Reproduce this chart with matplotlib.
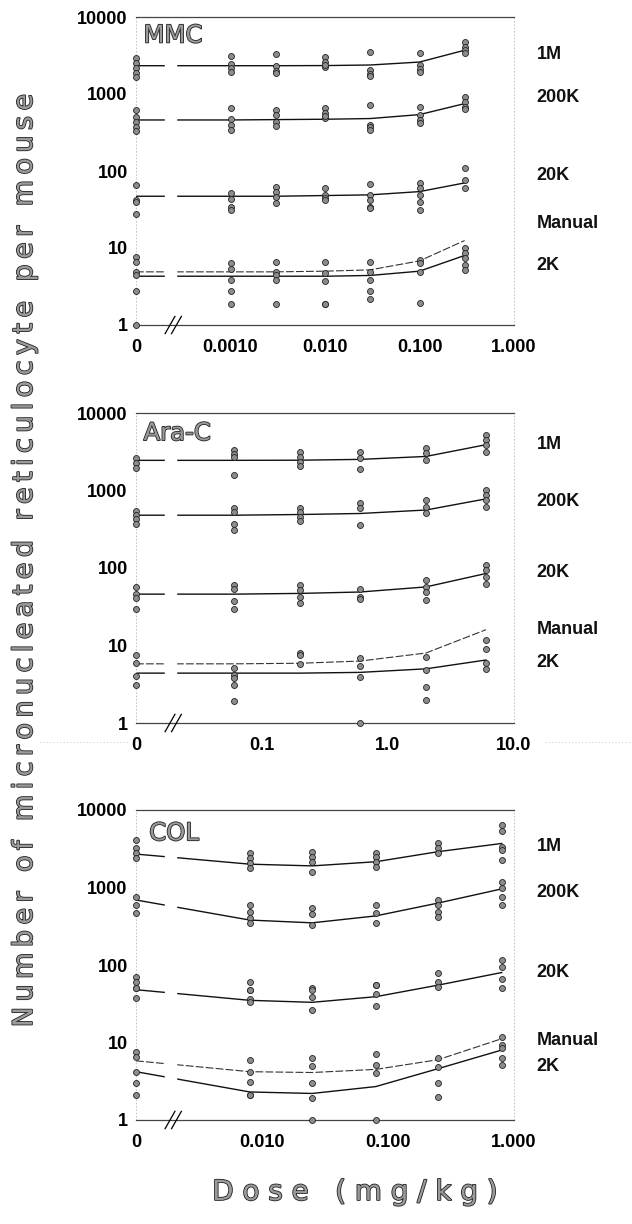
import matplotlib
matplotlib.use("Agg")
import matplotlib.pyplot as plt
import matplotlib.patheffects as pe
from matplotlib.patches import Rectangle
from matplotlib.lines import Line2D

# ---------------- data ----------------
# doses in mg/kg, 0 = vehicle control
mmc_doses = [0, 0.001, 0.003, 0.01, 0.03, 0.1, 0.3]
mmc_1m = [[2950, 2500, 2180, 1870, 1660], [3100, 2450, 2190, 1950], [3300, 2300, 2000, 1900],
          [3000, 2600, 2250, 2400], [3500, 2050, 1800, 1700], [3400, 2400, 2100, 1950],
          [4800, 4100, 3700, 3400]]
mmc_1m_fit = [2330, 2330, 2330, 2340, 2380, 2600, 3700]
mmc_200k = [[620, 500, 435, 375, 330], [660, 480, 400, 340], [615, 540, 435, 380],
            [660, 560, 490, 520], [720, 400, 370, 340], [680, 535, 460, 420], [910, 790, 680, 630]]
mmc_200k_fit = [460, 460, 465, 470, 480, 540, 750]
mmc_20k = [[66, 42, 40, 28], [52, 43, 34, 31], [62, 54, 46, 38], [60, 49, 45, 42],
           [68, 49, 42, 34, 33], [69, 60, 49, 40, 31], [110, 76, 60]]
mmc_20k_fit = [47, 47, 47, 48, 49, 54, 70]
mmc_manual = [[7.6, 6.6, 4.9], [6.4, 5.4], [6.6, 4.9], [6.6, 4.8], [6.6, 4.9], [6.9, 6.4],
              [10, 8.7, 7.4]]
mmc_manual_fit = [4.9, 4.9, 4.9, 5.0, 5.2, 6.8, 12.5]
mmc_2k = [[4.4, 2.8, 1.0], [3.8, 2.8, 1.9], [4.5, 3.8, 1.9], [3.7, 1.9, 1.9], [3.8, 2.8, 2.2],
          [4.9, 1.95], [6.0, 5.2]]
mmc_2k_fit = [4.3, 4.3, 4.3, 4.3, 4.4, 5.0, 8.0]

arac_doses = [0, 0.06, 0.2, 0.6, 2, 6]
arac_1m = [[2600, 2250, 1950], [3300, 3000, 2700, 1580], [3150, 2700, 2350, 2080],
           [3150, 2630, 1900], [3550, 3050, 2460], [5200, 4500, 3900, 3150]]
arac_1m_fit = [2450, 2450, 2460, 2520, 2750, 3900]
arac_200k = [[550, 480, 425, 370], [590, 530, 370, 310], [600, 530, 460, 400],
             [690, 590, 355], [760, 620, 510], [1020, 870, 760, 620]]
arac_200k_fit = [480, 480, 490, 505, 560, 780]
arac_20k = [[57, 46, 41, 30], [60, 54, 38, 30], [60, 52, 42, 35], [54, 42, 40],
            [71, 57, 49, 39], [110, 93, 76, 63]]
arac_20k_fit = [46, 46, 47, 49, 57, 85]
arac_manual = [[7.6, 5.9], [5.1, 4.2], [8.1, 7.6, 5.8], [6.9, 5.5], [7.1, 4.8], [11.7, 9.0]]
arac_manual_fit = [5.8, 5.8, 5.9, 6.3, 8.0, 16]
arac_2k = [[4.1, 3.1], [3.8, 3.1, 1.9], [], [3.9, 1.0], [2.9, 2.0], [5.9, 5.0]]
arac_2k_fit = [4.4, 4.4, 4.4, 4.5, 5.0, 6.5]

col_doses = [0, 0.008, 0.025, 0.08, 0.25, 0.8]
col_1m = [[4100, 3250, 2800, 2400], [2800, 2400, 2080, 1780], [2900, 2450, 2150, 1590],
          [2800, 2450, 2150, 1860], [3700, 3250, 2800], [6400, 5300, 3300, 3050, 2250]]
col_1m_fit = [2700, 2000, 1900, 2150, 2900, 3700]
col_200k = [[760, 600, 470], [600, 490, 410, 350], [550, 450, 330], [600, 470, 350],
            [690, 600, 490, 420], [1170, 980, 760, 600]]
col_200k_fit = [690, 380, 350, 430, 630, 960]
col_20k = [[71, 61, 50, 50, 37], [61, 48, 48, 36, 33], [50, 48, 39, 26], [55, 55, 42, 30],
           [79, 61, 52], [115, 93, 65, 50]]
col_20k_fit = [48, 35, 33, 39, 55, 80]
col_manual = [[7.6, 6.5], [5.9, 4.2], [6.3, 5.0], [7.1, 5.1], [6.3, 4.8], [11.7, 9.3, 8.5]]
col_manual_fit = [5.8, 4.2, 4.1, 4.5, 6.0, 11.2]
col_2k = [[4.2, 3.0, 2.1], [3.1, 2.1, 2.1], [3.0, 1.95, 1.0], [4.1, 1.0], [3.0, 2.0], [6.3, 5.1]]
col_2k_fit = [4.2, 2.3, 2.2, 2.7, 4.6, 8.0]

series_names = ["1M", "200K", "20K", "Manual", "2K"]
y_ticks = [1, 10, 100, 1000, 10000]
y_ticklabels = ["1", "10", "100", "1000", "10000"]

mmc_xticks = [1e-4, 1e-3, 1e-2, 1e-1, 1]
mmc_xticklabels = ["0", "0.0010", "0.010", "0.100", "1.000"]
arac_xticks = [0.01, 0.1, 1, 10]
arac_xticklabels = ["0", "0.1", "1.0", "10.0"]
col_xticks = [0.001, 0.01, 0.1, 1]
col_xticklabels = ["0", "0.010", "0.100", "1.000"]

panels = [
    dict(name="MMC", doses=mmc_doses, xticks=mmc_xticks, xlabels=mmc_xticklabels,
         pts=[mmc_1m, mmc_200k, mmc_20k, mmc_manual, mmc_2k],
         fits=[mmc_1m_fit, mmc_200k_fit, mmc_20k_fit, mmc_manual_fit, mmc_2k_fit],
         rect=[136/632, 1 - 325/1224, 378/632, 308/1224],
         lab_y=[0.877, 0.740, 0.484, 0.331, 0.192], title_x=0.02, title_y=0.94),
    dict(name="Ara-C", doses=arac_doses, xticks=arac_xticks, xlabels=arac_xticklabels,
         pts=[arac_1m, arac_200k, arac_20k, arac_manual, arac_2k],
         fits=[arac_1m_fit, arac_200k_fit, arac_20k_fit, arac_manual_fit, arac_2k_fit],
         rect=[136/632, 1 - 723/1224, 378/632, 310/1224],
         lab_y=[0.897, 0.713, 0.487, 0.300, 0.194], title_x=0.02, title_y=0.935),
    dict(name="COL", doses=col_doses, xticks=col_xticks, xlabels=col_xticklabels,
         pts=[col_1m, col_200k, col_20k, col_manual, col_2k],
         fits=[col_1m_fit, col_200k_fit, col_20k_fit, col_manual_fit, col_2k_fit],
         rect=[136/632, 1 - 1120/1224, 378/632, 310/1224],
         lab_y=[0.881, 0.735, 0.477, 0.258, 0.171], title_x=0.035, title_y=0.925),
]

# ---------------- drawing ----------------
outline = [pe.withStroke(linewidth=1.2, foreground="#222222")]
tick_font = dict(family="Liberation Sans", weight="bold", size=13)

fig = plt.figure(figsize=(6.32, 12.24), dpi=100)

for p in panels:
    ax = fig.add_axes(p["rect"])
    ax.set_xscale("log")
    ax.set_yscale("log")
    x0 = p["xticks"][0]           # control plotted at the "0" position
    xs = [x0 if d == 0 else d for d in p["doses"]]

    for k, (pts, fit) in enumerate(zip(p["pts"], p["fits"])):
        if series_names[k] == "Manual":
            ax.plot(xs, fit, color="#333333", lw=0.8, ls=(0, (7, 2)), zorder=2)
        else:
            ax.plot(xs, fit, color="#111111", lw=1.0, zorder=2)
        for x, vals in zip(xs, pts):
            ax.plot([x] * len(vals), vals, "o", ms=4.3, mfc="#8c8c8c", mec="#222222",
                    mew=0.6, clip_on=False, zorder=3)

    # gap in the curves at the axis break
    ax.add_patch(Rectangle((0.077, 0.012), 0.028, 0.976, transform=ax.transAxes,
                           color="white", zorder=2.2))
    # break marks on the bottom line
    for bx in (0.077, 0.094):
        ax.add_line(Line2D([bx, bx + 0.026], [-0.028, 0.028], transform=ax.transAxes,
                           color="black", lw=0.9, clip_on=False, zorder=4))

    ax.set_xlim(p["xticks"][0], p["xticks"][-1])
    ax.set_ylim(1, 10000)
    ax.xaxis.set_minor_locator(plt.NullLocator())
    ax.yaxis.set_minor_locator(plt.NullLocator())
    ax.set_xticks(p["xticks"])
    ax.set_xticklabels(p["xlabels"], fontdict=tick_font)
    ax.set_yticks(y_ticks)
    ax.set_yticklabels(y_ticklabels, fontdict=tick_font)
    ax.tick_params(axis="x", length=0, pad=10)
    ax.tick_params(axis="y", length=0, pad=6)

    for s in ("top", "bottom"):
        ax.spines[s].set_color("#444444")
        ax.spines[s].set_linewidth(0.9)
    for s in ("left", "right"):
        ax.spines[s].set_color("#bbbbbb")
        ax.spines[s].set_linewidth(0.6)
        ax.spines[s].set_linestyle((0, (1, 3)))

    ax.text(p["title_x"], p["title_y"], p["name"], transform=ax.transAxes, ha="left",
            va="center", fontsize=17.5, color="#9a9a9a", family="DejaVu Sans",
            path_effects=outline)
    for name, ly in zip(series_names, p["lab_y"]):
        ax.text(1.06, ly, name, transform=ax.transAxes, ha="left", va="center",
                fontsize=13, family="Liberation Sans", weight="bold", color="#111111")

# y label with widened letter spacing
ylab = "Number of micronucleated reticulocyte per mouse"
fig.text(25/632, 1 - 557/1224, "\u200a\u200a".join(ylab), rotation=90, ha="center",
         va="center", fontsize=19.5, color="#9a9a9a", family="DejaVu Sans",
         path_effects=outline)
fig.text(355/632, 1 - 1192/1224, "D o s e   ( m g / k g )", ha="center", va="center",
         fontsize=20, color="#9a9a9a", family="DejaVu Sans", path_effects=outline)

# faint dotted scan line between panels
fig.add_artist(Line2D([40/632, 130/632], [1 - 742/1224] * 2, color="#bbbbbb", lw=0.6,
                      ls=(0, (1, 3))))
fig.add_artist(Line2D([545/632, 630/632], [1 - 742/1224] * 2, color="#bbbbbb", lw=0.6,
                      ls=(0, (1, 3))))

fig.savefig("out.png", dpi=100)
